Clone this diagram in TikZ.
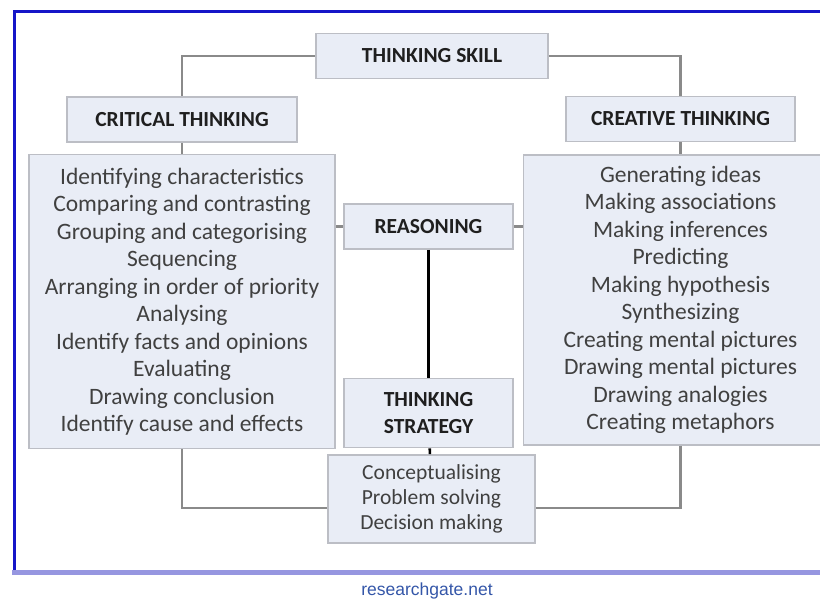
\documentclass[tikz,border=0pt]{standalone}
\usepackage{fontspec}
\setmainfont{Carlito}
\newfontfamily\sitefont{Liberation Sans}
\usetikzlibrary{positioning}

\definecolor{boxfill}{RGB}{233,237,246}
\definecolor{boxline}{RGB}{188,190,197}
\definecolor{linkgray}{RGB}{138,138,138}
\definecolor{framedeep}{RGB}{22,22,200}
\definecolor{framepale}{RGB}{150,150,224}
\definecolor{sitecol}{RGB}{52,86,168}

\begin{document}
\begin{tikzpicture}[x=1pt, y=-1pt, node distance=10pt,
    every node/.style={inner sep=0pt, align=center},
    head/.style={draw=boxline, fill=boxfill, line width=1.6pt, minimum height=45pt,
                 font=\fontsize{21.5}{27}\selectfont\bfseries, text=black!88},
    list/.style={draw=boxline, fill=boxfill, line width=1.6pt,
                 font=\fontsize{23.5}{27.5}\selectfont, text=black!75},
    link/.style={draw=linkgray, line width=2.6pt},
    spine/.style={draw=black, line width=2.6pt}]
    \useasboundingbox (0,0) rectangle (820,601);
    \clip (0,0) rectangle (820,601);

    % page frame
    \draw[framedeep, line width=3pt] (14,572) -- (14,11.5) -- (830,11.5);
    \draw[framepale, line width=5pt] (12,572.5) -- (830,572.5);

    \node (skill) at (432,56) [head, minimum width=232pt] {THINKING SKILL};
    \node (crit)  at (182,119.5) [head, minimum width=230pt] {CRITICAL THINKING};
    \node (creat) at (680.5,119) [head, minimum width=229pt] {CREATIVE THINKING};

    \node (critlist)  [below=11pt of crit, list, minimum width=306pt, minimum height=294pt]
        {Identifying characteristics \\ Comparing and contrasting \\ Grouping and categorising \\
         Sequencing \\ Arranging in order of priority \\ Analysing \\ Identify facts and opinions \\
         Evaluating \\ Drawing conclusion \\ Identify cause and effects};
    \node (creatlist) [below=12pt of creat, list, minimum width=314pt, minimum height=290pt]
        {Generating ideas \\ Making associations \\ Making inferences \\ Predicting \\
         Making hypothesis \\ Synthesizing \\ Creating mental pictures \\ Drawing mental pictures \\
         Drawing analogies \\ Creating metaphors};

    \node (reason) at (428.5,226.5) [head, minimum width=169pt] {REASONING};
    \node (strat)  [below=128pt of reason, head, minimum width=169pt, minimum height=69pt]
        {THINKING \\ STRATEGY};
    \node (stratlist) at (431.5,499) [list, minimum width=207pt, minimum height=88pt,
        font=\fontsize{21.5}{25}\selectfont] {Conceptualising \\ Problem solving \\ Decision making};

    \draw[link] (skill.west) -| (crit.north);
    \draw[link] (skill.east) -| (creat.north);
    \draw[link] (crit) -- (critlist);
    \draw[link] (creat) -- (creatlist);
    \draw[link] (reason.west) -- (reason.west -| critlist.east);
    \draw[link] (reason.east) -- (reason.east -| creatlist.west);
    \draw[link] (critlist.south) |- ([yshift=-9pt]stratlist.west);
    \draw[link] (creatlist.south) |- ([yshift=-9pt]stratlist.east);
    \draw[spine] (reason) -- (strat);
    \draw[spine] (strat) -- (stratlist);

    \node (site) at (427,591) [font=\sitefont\fontsize{17.5}{19}\selectfont, text=sitecol] {researchgate.net};
\end{tikzpicture}
\end{document}
